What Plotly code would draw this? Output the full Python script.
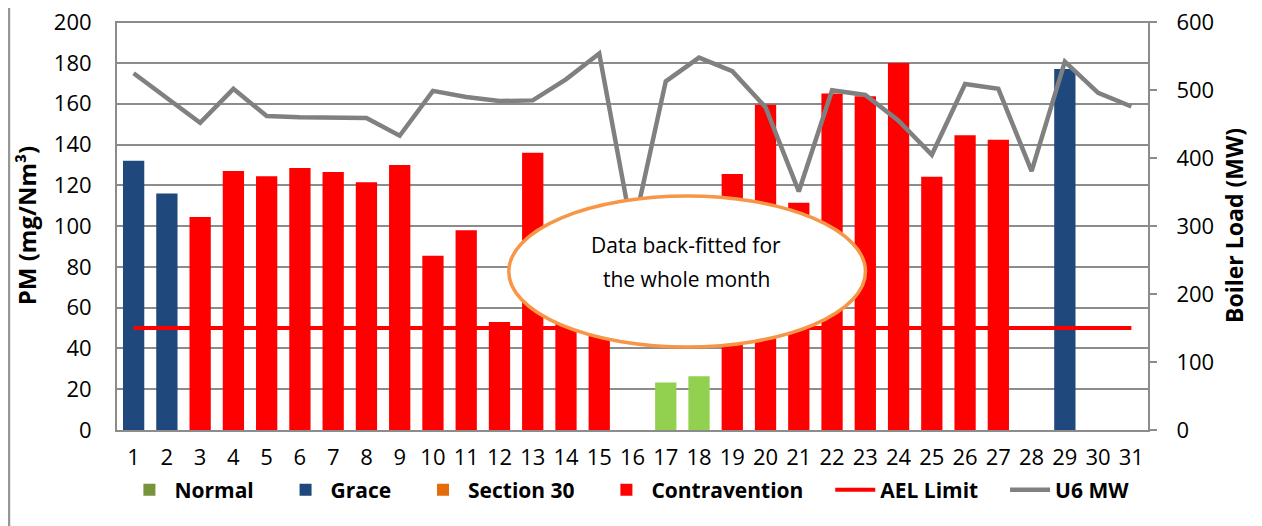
import plotly.graph_objects as go

# ─────────────────────────────────────────
# data
# ─────────────────────────────────────────

days = [str(d) for d in range(1, 32)]

pm_normal = [None] * 16 + [23.3, 26.4] + [None] * 13
pm_grace = [132, 116] + [None] * 26 + [177, None, None]
pm_contravention = [
    None, None, 104.5, 127, 124.5, 128.5, 126.5, 121.5, 130, 85.5,
    98, 53, 136, 80, 90, None, None, None, 125.5, 159.5,
    111.5, 165, 163.7, 180, 124.2, 144.6, 142.3, None, None, None, None,
]
ael_limit = [50, 50, 50, 50, 50, 50, 50, 50, 50, 50, 50, 50, 50, 50, 50, 50,
             50, 50, 50, 50, 50, 50, 50, 50, 50, 50, 50, 50, 50, 50, 50]
u6_mw = [525, 488, 452, 502, 462, 460, 460, 459, 433, 499,
         490, 484, 485, 516, 554, 290, 513, 548, 528, 475,
         351, 500, 493, 455, 405, 509, 502, 381, 542, 496, 476]

# ─────────────────────────────────────────
# style
# ─────────────────────────────────────────

COL = {
    "normal_legend": "#77933C",
    "normal_bar": "#92D050",
    "grace": "#1F497D",
    "sec30": "#E36C09",
    "contra": "#FF0000",
    "ael": "#FF0000",
    "mw": "#808080",
    "grid": "#8C8C8C",
}
FONT = "Open Sans, Lato, sans-serif"
PAD = "\u00a0" * 4   # a little extra gap after legend labels
CLEAR = "rgba(0,0,0,0)"

fig = go.Figure()

# legend-only swatch for "Normal" (bars themselves are a lighter green)
fig.add_trace(go.Bar(x=[days[15]], y=[None], name="Normal" + PAD,
                     marker=dict(color=COL["normal_legend"], line_width=0)))
fig.add_trace(go.Bar(x=days, y=pm_normal, name="Normal", showlegend=False,
                     marker=dict(color=COL["normal_bar"], line_width=0)))
fig.add_trace(go.Bar(x=days, y=pm_grace, name="Grace" + PAD,
                     marker=dict(color=COL["grace"], line_width=0)))
fig.add_trace(go.Bar(x=[days[15]], y=[None], name="Section 30" + PAD,
                     marker=dict(color=COL["sec30"], line_width=0)))
fig.add_trace(go.Bar(x=days, y=pm_contravention, name="Contravention" + PAD,
                     marker=dict(color=COL["contra"], line_width=0)))
fig.add_trace(go.Scatter(x=days, y=ael_limit, name="AEL Limit" + PAD, mode="lines",
                         line=dict(color=COL["ael"], width=4)))
fig.add_trace(go.Scatter(x=days, y=u6_mw, name="U6 MW", mode="lines", yaxis="y2",
                         line=dict(color=COL["mw"], width=4.5)))
# carrier for the short visible tick marks on the right axis
fig.add_trace(go.Scatter(x=[days[0]], y=[None], yaxis="y3", showlegend=False,
                         hoverinfo="skip"))

# page body has an 8px margin, so the figure is sized to fit the 1262x526 window
fig.update_layout(
    width=1254, height=518,
    margin=dict(l=109, r=114, t=13, b=96),
    paper_bgcolor="white", plot_bgcolor="white",
    font=dict(family=FONT, size=22, color="black"),
    barmode="overlay", bargap=0.36,
    showlegend=True,
    legend=dict(orientation="h", x=0.497, xanchor="center", y=-0.147, yanchor="middle",
                font=dict(size=21, family=FONT, weight="bold"),
                itemwidth=40, traceorder="normal"),
    xaxis=dict(type="category", categoryorder="array", categoryarray=days,
               range=[-0.5, 30.5], automargin=False,
               showgrid=False, showline=True, linecolor=COL["grid"], linewidth=2,
               ticks="outside", ticklen=7, tickcolor=CLEAR, tickfont=dict(size=22)),
    yaxis=dict(range=[0, 200.6], tick0=0, dtick=20, showgrid=True, gridcolor=COL["grid"],
               gridwidth=1.5, showline=True, linecolor=COL["grid"], linewidth=2,
               zeroline=False, ticks="outside", ticklen=19, tickcolor=CLEAR,
               tickfont=dict(size=22), ticklabeloverflow="allow", automargin=False,
               title=dict(text="<b>PM (mg/Nm³)</b>", font=dict(size=24), standoff=10)),
    yaxis2=dict(range=[0, 601.8], tick0=0, dtick=100, overlaying="y", side="right",
                showgrid=False, showline=True, linecolor=COL["grid"], linewidth=2,
                zeroline=False, ticks="outside", ticklen=22, tickcolor=CLEAR,
                tickfont=dict(size=22), ticklabeloverflow="allow", automargin=False,
                title=dict(text="<b>Boiler Load (MW)</b>", font=dict(size=23), standoff=14)),
    yaxis3=dict(range=[0, 601.8], tick0=0, dtick=100, overlaying="y", side="right",
                showgrid=False, showline=False, zeroline=False, showticklabels=False,
                ticks="outside", ticklen=8, tickcolor=COL["grid"], tickwidth=2,
                automargin=False),
)

# annotation bubble
fig.add_shape(type="circle", xref="paper", yref="paper",
              x0=0.380, x1=0.726, y0=0.203, y1=0.572,
              fillcolor="white", line=dict(color="#F79646", width=3.5), layer="above")
for txt, ty in [("Data back-fitted for", 0.452), ("the whole month", 0.370)]:
    fig.add_annotation(xref="paper", yref="paper", x=0.552, y=ty, text=txt,
                       showarrow=False, font=dict(size=21, family=FONT, color="black"))

# outer chart frame (left/right edges)
fig.add_shape(type="line", xref="paper", yref="paper", x0=-0.1055, x1=-0.1055,
              y0=-1, y1=2, line=dict(color="#969696", width=4), layer="below")
fig.add_shape(type="line", xref="paper", yref="paper", x0=1.1105, x1=1.1105,
              y0=-1, y1=2, line=dict(color="#969696", width=3), layer="below")

fig.write_html("out.html")
